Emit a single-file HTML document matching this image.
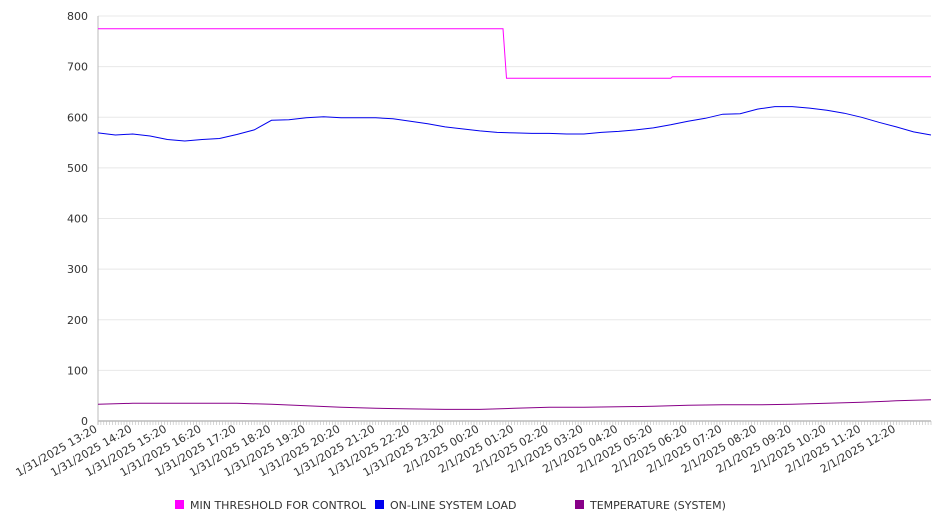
<!DOCTYPE html>
<html><head><meta charset="utf-8"><style>
body{margin:0;background:#fff;font-family:"Liberation Sans","DejaVu Sans",sans-serif;}
svg text{font-family:"DejaVu Sans","Liberation Sans",sans-serif;}
</style></head><body>
<svg id="chart" width="946" height="526" xmlns="http://www.w3.org/2000/svg"></svg>
<script>
const loadHours=[0,0.5,1,1.5,2,2.5,3,3.5,4,4.5,5,5.5,6,6.5,7,7.5,8,8.5,9,9.5,10,10.5,11,11.5,12,12.5,13,13.5,14,14.5,15,15.5,16,16.5,17,17.5,18,18.5,19,19.5,20,20.5,21,21.5,22,22.5,23,23.5,24];
const loadValues=[569,565,567,563,556,553,556,558,566,575,594,595,599,601,599,599,599,597,592,587,581,577,573,570,569,568,568,567,567,570,572,575,579,585,592,598,606,607,616,621,621,618,614,608,600,590,581,571,565];
const thrHours=[0,11.67,11.77,16.5,16.55,24];
const thrValues=[775,775,677,677,680,680];
const tempHours=[0,1,2,3,4,5,6,7,8,9,10,11,12,13,14,15,16,17,18,19,20,21,22,23,24];
const tempValues=[33,35,35,35,35,33,30,27,25,24,23,23,25,27,27,28,29,31,32,32,33,35,37,40,42];
const yTicks=[0,100,200,300,400,500,600,700,800];
const xLabels=["1/31/2025 13:20","1/31/2025 14:20","1/31/2025 15:20","1/31/2025 16:20","1/31/2025 17:20","1/31/2025 18:20","1/31/2025 19:20","1/31/2025 20:20","1/31/2025 21:20","1/31/2025 22:20","1/31/2025 23:20","2/1/2025 00:20","2/1/2025 01:20","2/1/2025 02:20","2/1/2025 03:20","2/1/2025 04:20","2/1/2025 05:20","2/1/2025 06:20","2/1/2025 07:20","2/1/2025 08:20","2/1/2025 09:20","2/1/2025 10:20","2/1/2025 11:20","2/1/2025 12:20"];
const legendNames=["MIN THRESHOLD FOR CONTROL","ON-LINE SYSTEM LOAD","TEMPERATURE (SYSTEM)"];
const legendColors=["#ff00ff","#0000ee","#880088"];

const svg=document.getElementById('chart');
const NS='http://www.w3.org/2000/svg';
const X0=98,X1=931,Y0=421,Y1=16;
const xs=h=>X0+(X1-X0)*h/24;
const ys=v=>Y0-(Y0-Y1)*v/800;
function mk(tag,attrs,parent){const e=document.createElementNS(NS,tag);for(const k in attrs)e.setAttribute(k,attrs[k]);(parent||svg).appendChild(e);return e;}

yTicks.forEach(v=>{
  const g=mk('line',{x1:X0,x2:X1,y1:ys(v),y2:ys(v),stroke:v===0?'#999':'#e8e8e8','stroke-width':1});
  
  
  const t=mk('text',{x:88,y:ys(v)+4,'text-anchor':'end','font-size':11,fill:'#333'});
  t.textContent=v;
  
  
});
const ax=mk('line',{x1:X0,x2:X0,y1:Y1,y2:Y0+4,stroke:'#bbb'});


for(let i=0;i<=288;i++){
  const x=xs(i/12);
  const m=mk('line',{x1:x,x2:x,y1:Y0,y2:Y0+4,stroke:'#bbb','stroke-width':0.6});
  
  
}
xLabels.forEach((l,i)=>{
  const x=xs(i),y=Y0+10;
  const t=mk('text',{x:x,y:y,'text-anchor':'end','font-size':11,fill:'#333',transform:`rotate(-30 ${x} ${y})`});
  t.textContent=l;
  
  
});
function line(hs,vs,color,name){
  const d=hs.map((h,i)=>(i?'L':'M')+xs(h).toFixed(1)+' '+ys(vs[i]).toFixed(1)).join(' ');
  const p=mk('path',{d:d,fill:'none',stroke:color,'stroke-width':1});
  
  
}
line(thrHours,thrValues,legendColors[0],'min-threshold-line');
line(loadHours,loadValues,legendColors[1],'system-load-line');
line(tempHours,tempValues,legendColors[2],'temperature-line');
const lx=[175,375,575];
legendNames.forEach((n,i)=>{
  const r=mk('rect',{x:lx[i],y:500,width:9,height:9,fill:legendColors[i]});
  
  
  const t=mk('text',{x:lx[i]+15,y:509,'font-size':11,fill:'#333'});
  t.textContent=n;
  
  
});
</script>
</body></html>
